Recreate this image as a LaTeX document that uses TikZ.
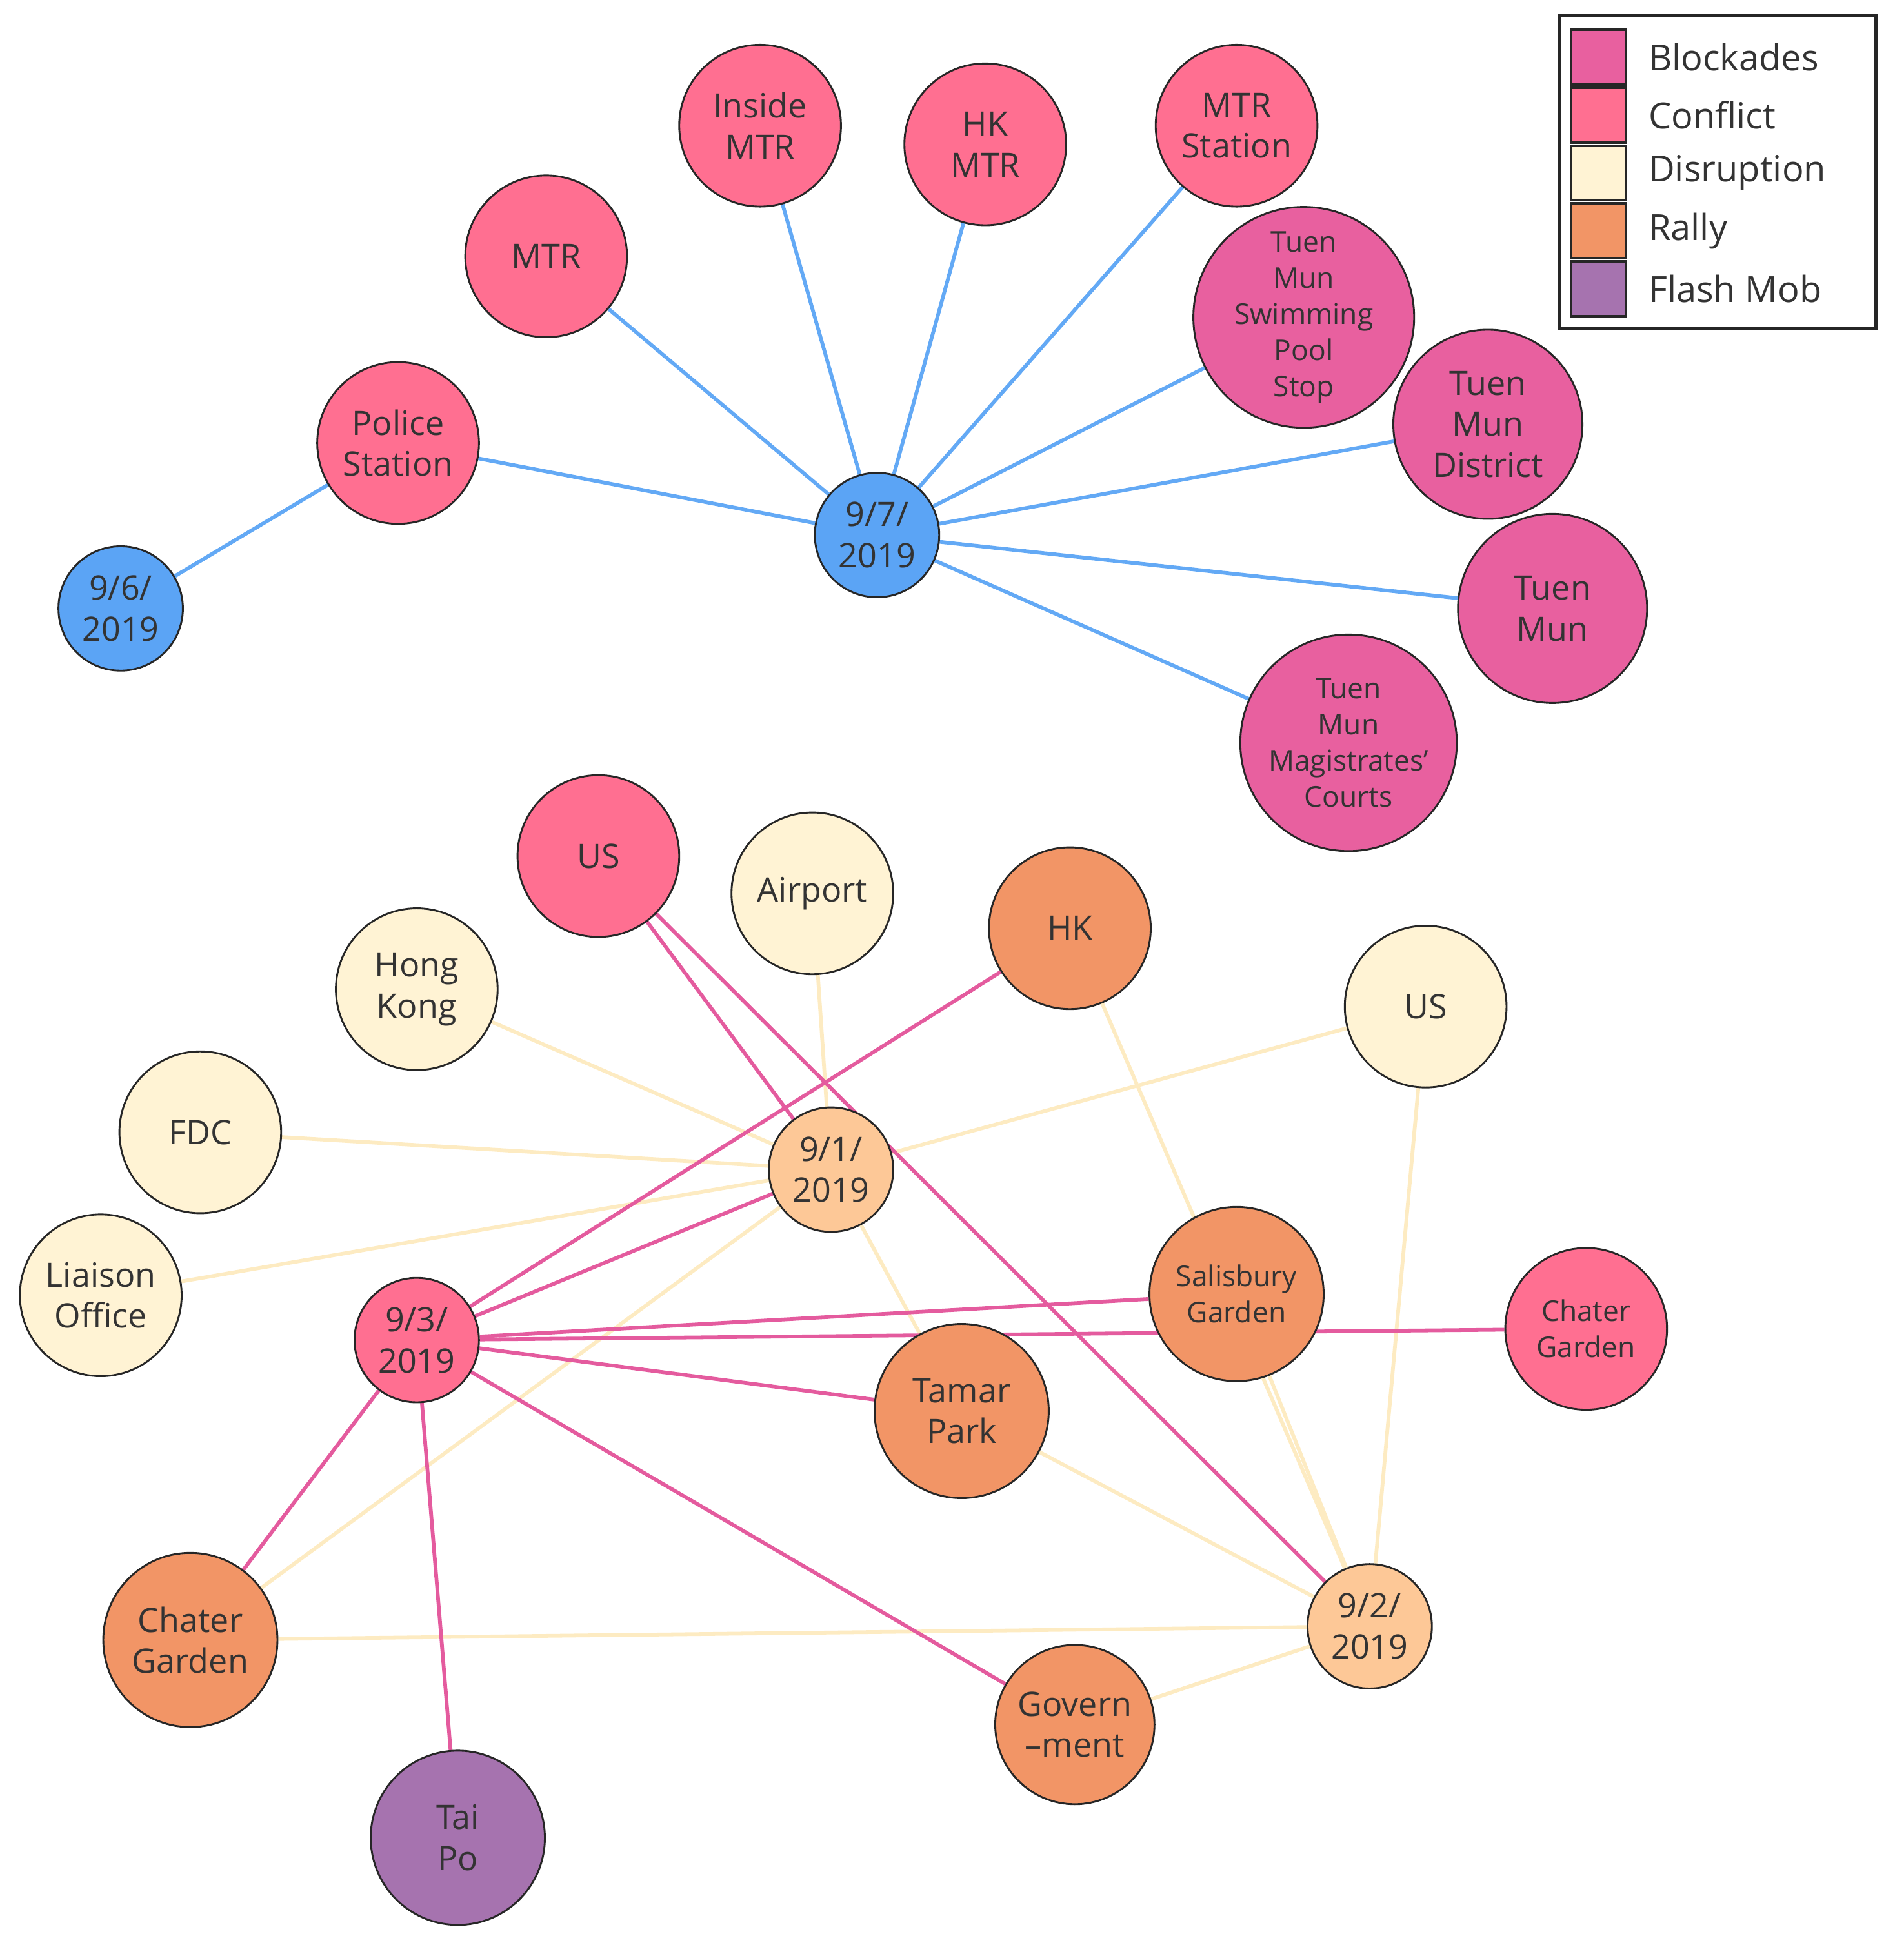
\documentclass[tikz,border=0pt]{standalone}
\usepackage{fontspec}
\setmainfont{Open Sans}
\definecolor{cBlock}{HTML}{E8609F}
\definecolor{cConf}{HTML}{FF6F91}
\definecolor{cDis}{HTML}{FFF3D4}
\definecolor{cRally}{HTML}{F29566}
\definecolor{cFlash}{HTML}{A673AF}
\definecolor{cBlue}{HTML}{5BA4F5}
\definecolor{cDate}{HTML}{FDC897}
\definecolor{eBlue}{HTML}{63A9F5}
\definecolor{ePink}{HTML}{E45B9E}
\definecolor{eCream}{HTML}{FDEBC2}
\definecolor{txt}{HTML}{333333}
\begin{document}
\begin{tikzpicture}[x=1pt,y=-1pt,
 nd/.style={circle,draw=black!85,line width=1.5pt,inner sep=0pt,align=center,text=txt,font=\fontsize{27}{33}\selectfont},
 sm/.style={font=\fontsize{23}{29}\selectfont},
 eb/.style={eBlue,line width=3pt},
 ep/.style={ePink,line width=3pt},
 ec/.style={eCream,line width=3pt}]
\useasboundingbox (0,0) rectangle (1530,1572);
% top
\node[nd,fill=cBlue,minimum size=100pt] (d6) at (97,489) {9/6/\\2019};
\node[nd,fill=cConf,minimum size=130pt] (ps) at (320,356) {Police\\Station};
\node[nd,fill=cConf,minimum size=130pt] (mtr) at (439,206) {MTR};
\node[nd,fill=cConf,minimum size=130pt] (imtr) at (611,101) {Inside\\MTR};
\node[nd,fill=cConf,minimum size=130pt] (hkmtr) at (792,116) {HK\\MTR};
\node[nd,fill=cConf,minimum size=130pt] (mtrs) at (994,101) {MTR\\Station};
\node[nd,sm,fill=cBlock,minimum size=152pt] (tms) at (1048,255) {Tuen\\Mun\\Swimming\\Pool\\Stop};
\node[nd,fill=cBlock,minimum size=152pt] (tmd) at (1196,341) {Tuen\\Mun\\District};
\node[nd,fill=cBlock,minimum size=152pt] (tm) at (1248,489) {Tuen\\Mun};
\node[nd,sm,fill=cBlock,minimum size=174pt] (tmm) at (1084,597) {Tuen\\Mun\\Magistrates'\\Courts};
\node[nd,fill=cBlue,minimum size=100pt] (d7) at (705,430) {9/7/\\2019};
% bottom
\node[nd,fill=cConf,minimum size=130pt] (us1) at (481,688) {US};
\node[nd,fill=cDis,minimum size=130pt] (air) at (653,718) {Airport};
\node[nd,fill=cRally,minimum size=130pt] (hk) at (860,746) {HK};
\node[nd,fill=cDis,minimum size=130pt] (hkg) at (335,795) {Hong\\Kong};
\node[nd,fill=cDis,minimum size=130pt] (us2) at (1146,809) {US};
\node[nd,fill=cDis,minimum size=130pt] (fdc) at (161,910) {FDC};
\node[nd,fill=cDis,minimum size=130pt] (lo) at (81,1041) {Liaison\\Office};
\node[nd,sm,fill=cRally,minimum size=140pt] (sg) at (994,1040) {Salisbury\\Garden};
\node[nd,sm,fill=cConf,minimum size=130pt] (cg1) at (1275,1068) {Chater\\Garden};
\node[nd,fill=cRally,minimum size=140pt] (tp) at (773,1134) {Tamar\\Park};
\node[nd,fill=cRally,minimum size=140pt] (cg2) at (153,1318) {Chater\\Garden};
\node[nd,fill=cRally,minimum size=128pt] (gov) at (864,1386) {Govern\\–ment};
\node[nd,fill=cFlash,minimum size=140pt] (tai) at (368,1477) {Tai\\Po};
\node[nd,fill=cDate,minimum size=100pt] (d1) at (668,940) {9/1/\\2019};
\node[nd,fill=cDate,minimum size=100pt] (d2) at (1101,1307) {9/2/\\2019};
\node[nd,fill=cConf,minimum size=100pt] (d3) at (335,1077) {9/3/\\2019};
\begin{scope}[on background layer/.style={}]
\end{scope}
% edges drawn behind using pgf layers
\pgfdeclarelayer{bg}\pgfsetlayers{bg,main}
\begin{pgfonlayer}{bg}
\foreach \t in {ps,mtr,imtr,hkmtr,mtrs,tms,tmd,tm,tmm} \draw[eb] (d7) -- (\t);
\draw[eb] (d6) -- (ps);
\foreach \t in {hkg,air,fdc,lo,us2,tp,cg2} \draw[ec] (d1) -- (\t);
\foreach \t in {hk,sg,us2,tp,cg2,gov} \draw[ec] (d2) -- (\t);
\foreach \t in {hk,d1,sg,cg1,tp,gov,cg2,tai} \draw[ep] (d3) -- (\t);
\draw[ep] (us1) -- (d1);
\draw[ep] (us1) -- (d2);
\end{pgfonlayer}
% legend
\draw[black!85,line width=2.5pt] (1254,12) rectangle (1508,264);
\foreach \c/\l [count=\i] in {cBlock/Blockades,cConf/Conflict,cDis/Disruption,cRally/Rally,cFlash/Flash Mob}{
 \node[draw=black!85,line width=2pt,fill=\c,minimum size=44pt,inner sep=0pt] (lg\i) at (1285,{46.5*\i-0.5}) {};
 \node[anchor=west,text=txt,font=\fontsize{29}{34}\selectfont,inner sep=0pt] (lt\i) at (1325,{46.5*\i-0.5}) {\l};
}
\end{tikzpicture}
\end{document}
